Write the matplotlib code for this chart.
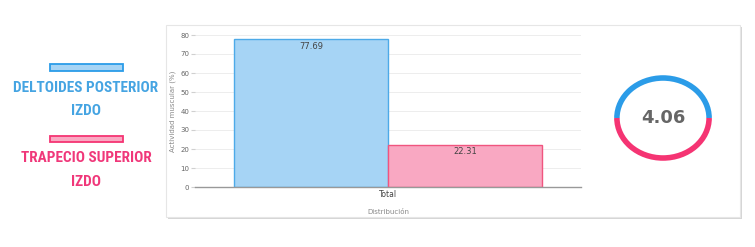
import matplotlib.pyplot as plt
from matplotlib.patches import Rectangle, Arc

# data
categories = ['Total']
series_names = ['DELTOIDES POSTERIOR\nIZDO', 'TRAPECIO SUPERIOR\nIZDO']
values = [77.69, 22.31]
ratio_value = 4.06
yticks = [0, 10, 20, 30, 40, 50, 60, 70, 80]

line_colors = ['#4DAAE8', '#F0557F']
fill_colors = ['#A6D4F5', '#F9A8C2']
text_colors = ['#45A4E2', '#F0387A']
ring_colors = ['#2B9CE8', '#F53473']

W, H = 755, 247
fig = plt.figure(figsize=(W / 100, H / 100), dpi=100)
fig.patch.set_facecolor('white')

def fx(px):
    return px / W

def fy(py):
    return 1 - py / H

# white panel with light border (behind the axes)
fig.patches.append(Rectangle((fx(168), fy(219)), fx(742) - fx(168), fy(27) - fy(219),
                             transform=fig.transFigure, facecolor='#D6D6D6',
                             edgecolor='none', zorder=-2))
fig.patches.append(Rectangle((fx(166), fy(217)), fx(740) - fx(166), fy(25) - fy(217),
                             transform=fig.transFigure, facecolor='white',
                             edgecolor='#E6E6E6', linewidth=0.8, zorder=-1))

# bar chart
ax = fig.add_axes([fx(195), fy(187), fx(581) - fx(195), fy(35) - fy(187)])
ax.set_facecolor('none')
bw = 0.4
for i, v in enumerate(values):
    x = (i - 0.5) * bw
    ax.bar(x, v, width=bw, color=fill_colors[i], edgecolor=line_colors[i], linewidth=1, zorder=2)
    ax.text(x, v - 1.5, f'{v:.2f}', ha='center', va='top', fontsize=6, color='#444444', zorder=3)

ax.set_xlim(-0.5, 0.5)
ax.set_ylim(0, 80)
ax.set_yticks(yticks)
ax.set_yticklabels([str(t) for t in yticks])
ax.set_xticks([0])
ax.set_xticklabels(categories)
ax.tick_params(axis='y', length=3, color='#D0D0D0', width=0.8, labelsize=5, labelcolor='#666666', pad=1)
ax.tick_params(axis='x', length=0, labelsize=5.5, labelcolor='#444444', pad=2)
ax.grid(axis='y', color='#EDEDED', linewidth=0.7, zorder=0)
for s in ['top', 'right', 'left']:
    ax.spines[s].set_visible(False)
ax.spines['bottom'].set_color('#999999')
ax.spines['bottom'].set_linewidth(1)
ax.set_ylabel('Actividad muscular (%)', fontsize=5, color='#888888', labelpad=3)
ax.set_xlabel('Distribución', fontsize=5, color='#888888', labelpad=7)

# ring indicator
ax2 = fig.add_axes([fx(610), fy(164), fx(716) - fx(610), fy(72) - fy(164)])
ax2.set_xlim(-1.15, 1.15)
ax2.set_ylim(-1.15, 1.15)
ax2.axis('off')
ax2.add_patch(Arc((0, 0), 2, 2, theta1=0, theta2=180, color=ring_colors[0], linewidth=4))
ax2.add_patch(Arc((0, 0), 2, 2, theta1=180, theta2=360, color=ring_colors[1], linewidth=4))
ax2.text(0, 0, f'{ratio_value:.2f}', ha='center', va='center', fontsize=13,
         fontweight='bold', color='#666666')

# legend on the left
legend_y = [68, 139]
text_y = [99.5, 170]
for i in range(2):
    fig.patches.append(Rectangle((fx(50), fy(legend_y[i] + 3.5)), fx(123) - fx(50), fy(legend_y[i] - 3.5) - fy(legend_y[i] + 3.5),
                                 transform=fig.transFigure, facecolor=fill_colors[i],
                                 edgecolor=ring_colors[i], linewidth=1.3))
    fig.text(fx(86), fy(text_y[i]), series_names[i], ha='center', va='center',
             fontsize=11, fontweight='bold', color=text_colors[i], fontstretch='condensed',
             family=['Roboto Condensed', 'Liberation Sans Narrow', 'DejaVu Sans'], linespacing=1.85)

fig.savefig('out.png', dpi=100)
